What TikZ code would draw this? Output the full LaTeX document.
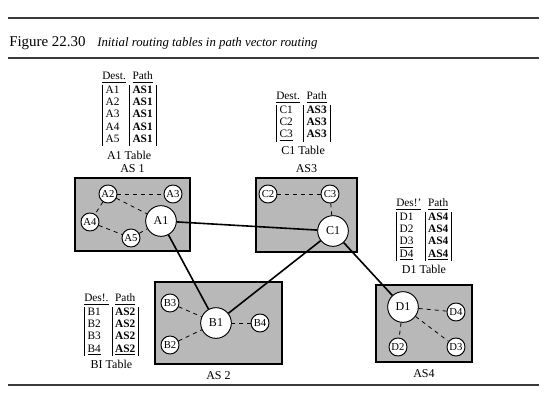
\documentclass[tikz,border=0pt]{standalone}
\usepackage{fontspec}
\setmainfont{Liberation Serif}
\usetikzlibrary{positioning}
\definecolor{AsGray}{HTML}{B8B8B8}
\definecolor{RuleGray}{HTML}{3A3A3A}

\begin{document}
\begin{tikzpicture}[x=0.75pt, y=-0.75pt, every node/.style={font=\fontsize{8.5}{9}\selectfont, inner sep=0pt},
  asbox/.style={draw=black, fill=AsGray, line width=0.8pt},
  router/.style={draw=black, fill=white, circle, line width=0.7pt, minimum size=23pt, font=\fontsize{9}{10}\selectfont},
  host/.style={draw=black, fill=white, circle, line width=0.7pt, minimum size=13.5pt, font=\fontsize{8}{9}\selectfont},
  lan/.style={dashed, line width=0.6pt},
  link/.style={line width=1.2pt},
  rtab/.style={anchor=north west, font=\fontsize{8.5}{9.2}\selectfont}]
  \useasboundingbox (0,0) rectangle (554,400);
  % rules and caption
  \draw[RuleGray, line width=0.9pt] (8,18) -- (539,18);
  \draw[RuleGray, line width=1.2pt] (8,58) -- (539,58);
  \draw[RuleGray, line width=0.9pt] (8,385) -- (539,385);
  \node[anchor=base west, font=\fontsize{11.2}{12}\selectfont] (fig) at (9,46) {Figure 22.30};
  \node[anchor=base west, font=\fontsize{9.6}{11}\selectfont\itshape] (caption) at (97,46) {Initial routing tables in path vector routing};

  % autonomous systems
  \node[asbox, minimum width=86.25pt, minimum height=54.75pt] (as1) at (132.5,214.5) {};
  \node[asbox, minimum width=75.75pt, minimum height=55.5pt] (as3) at (306.5,215) {};
  \node[asbox, minimum width=95.25pt, minimum height=61.5pt] (as2) at (218.5,323) {};
  \node[asbox, minimum width=72pt, minimum height=57.75pt] (as4) at (424,323.5) {};
  \node[above=3.5pt of as1, font=\fontsize{9}{10}\selectfont] (as1label) {AS 1};
  \node[above=3.5pt of as3, font=\fontsize{9}{10}\selectfont] (as3label) {AS3};
  \node[below=5pt of as2, font=\fontsize{9}{10}\selectfont] (as2label) {AS 2};
  \node[below=5pt of as4, font=\fontsize{9}{10}\selectfont] (as4label) {AS4};

  % routers
  \node[router] (A1) at (161,221) {A1};
  \node[host] (A2) at (108,194) {A2};
  \node[host] (A3) at (173,194) {A3};
  \node[host] (A4) at (90,222) {A4};
  \node[host] (A5) at (131,238) {A5};
  \node[router] (C1) at (333,231) {C1};
  \node[host] (C2) at (268,194) {C2};
  \node[host] (C3) at (330,194) {C3};
  \node[router] (B1) at (216,323) {B1};
  \node[host] (B2) at (170,345) {B2};
  \node[host] (B3) at (170,303) {B3};
  \node[host] (B4) at (260,323) {B4};
  \node[router] (D1) at (403,307) {D1};
  \node[host] (D2) at (398,347) {D2};
  \node[host] (D3) at (456,347) {D3};
  \node[host] (D4) at (456,312) {D4};

  \draw[lan] (A2) -- (A3);
  \draw[lan] (A2) -- (A1);
  \draw[lan] (A2) -- (A4);
  \draw[lan] (A4) -- (A5);
  \draw[lan] (A5) -- (A1);
  \draw[lan] (C2) -- (C3);
  \draw[lan] (C3) -- (C1);
  \draw[lan] (B3) -- (B1);
  \draw[lan] (B2) -- (B1);
  \draw[lan] (B4) -- (B1);
  \draw[lan] (D1) -- (D4);
  \draw[lan] (D1) -- (D3);
  \draw[lan] (D1) -- (D2);

  \draw[link] (A1) -- (C1);
  \draw[link] (A1) -- (B1);
  \draw[link] (C1) -- (B1);
  \draw[link] (C1) -- (D1);

  % routing tables
  \node[rtab] (tabA1) at (102,71) {\setlength{\tabcolsep}{2.5pt}\begin{tabular}{|l|l|}
    \multicolumn{1}{@{}l}{\underline{Dest.}} & \multicolumn{1}{l}{\underline{Path}}\\[1pt]
    A1 & \textbf{AS1}\\ A2 & \textbf{AS1}\\ A3 & \textbf{AS1}\\ A4 & \textbf{AS1}\\ A5 & \textbf{AS1}
  \end{tabular}};
  \node[below=3pt of tabA1, font=\fontsize{9}{10}\selectfont] (tabA1label) {A1 Table};
  \node[rtab] (tabC1) at (276,91) {\setlength{\tabcolsep}{2.5pt}\begin{tabular}{|l|l|}
    \multicolumn{1}{@{}l}{\underline{Dest.}} & \multicolumn{1}{l}{\underline{Path}}\\[1pt]
    C1 & \textbf{AS3}\\ C2 & \textbf{AS3}\\ \underline{C3} & \textbf{AS3}
  \end{tabular}};
  \node[below=3pt of tabC1, font=\fontsize{9}{10}\selectfont] (tabC1label) {C1 Table};
  \node[rtab] (tabD1) at (396,198) {\setlength{\tabcolsep}{2.5pt}\begin{tabular}{|l|l|}
    \multicolumn{1}{@{}l}{\underline{Des!'}} & \multicolumn{1}{l}{\underline{Path}}\\[1pt]
    D1 & \textbf{AS4}\\ D2 & \textbf{AS4}\\ \underline{D3} & \textbf{AS4}\\ \underline{D4} & \textbf{\underline{AS4}}
  \end{tabular}};
  \node[below=3pt of tabD1, font=\fontsize{9}{10}\selectfont] (tabD1label) {D1 Table};
  \node[rtab] (tabB1) at (84,293) {\setlength{\tabcolsep}{2.5pt}\begin{tabular}{|l|l|}
    \multicolumn{1}{@{}l}{\underline{Des!.}} & \multicolumn{1}{l}{\underline{Path}}\\[1pt]
    B1 & \textbf{AS2}\\ B2 & \textbf{AS2}\\ B3 & \textbf{AS2}\\ \underline{B4} & \textbf{\underline{AS2}}
  \end{tabular}};
  \node[below=3pt of tabB1, font=\fontsize{9}{10}\selectfont] (tabB1label) {BI Table};
\end{tikzpicture}
\end{document}
